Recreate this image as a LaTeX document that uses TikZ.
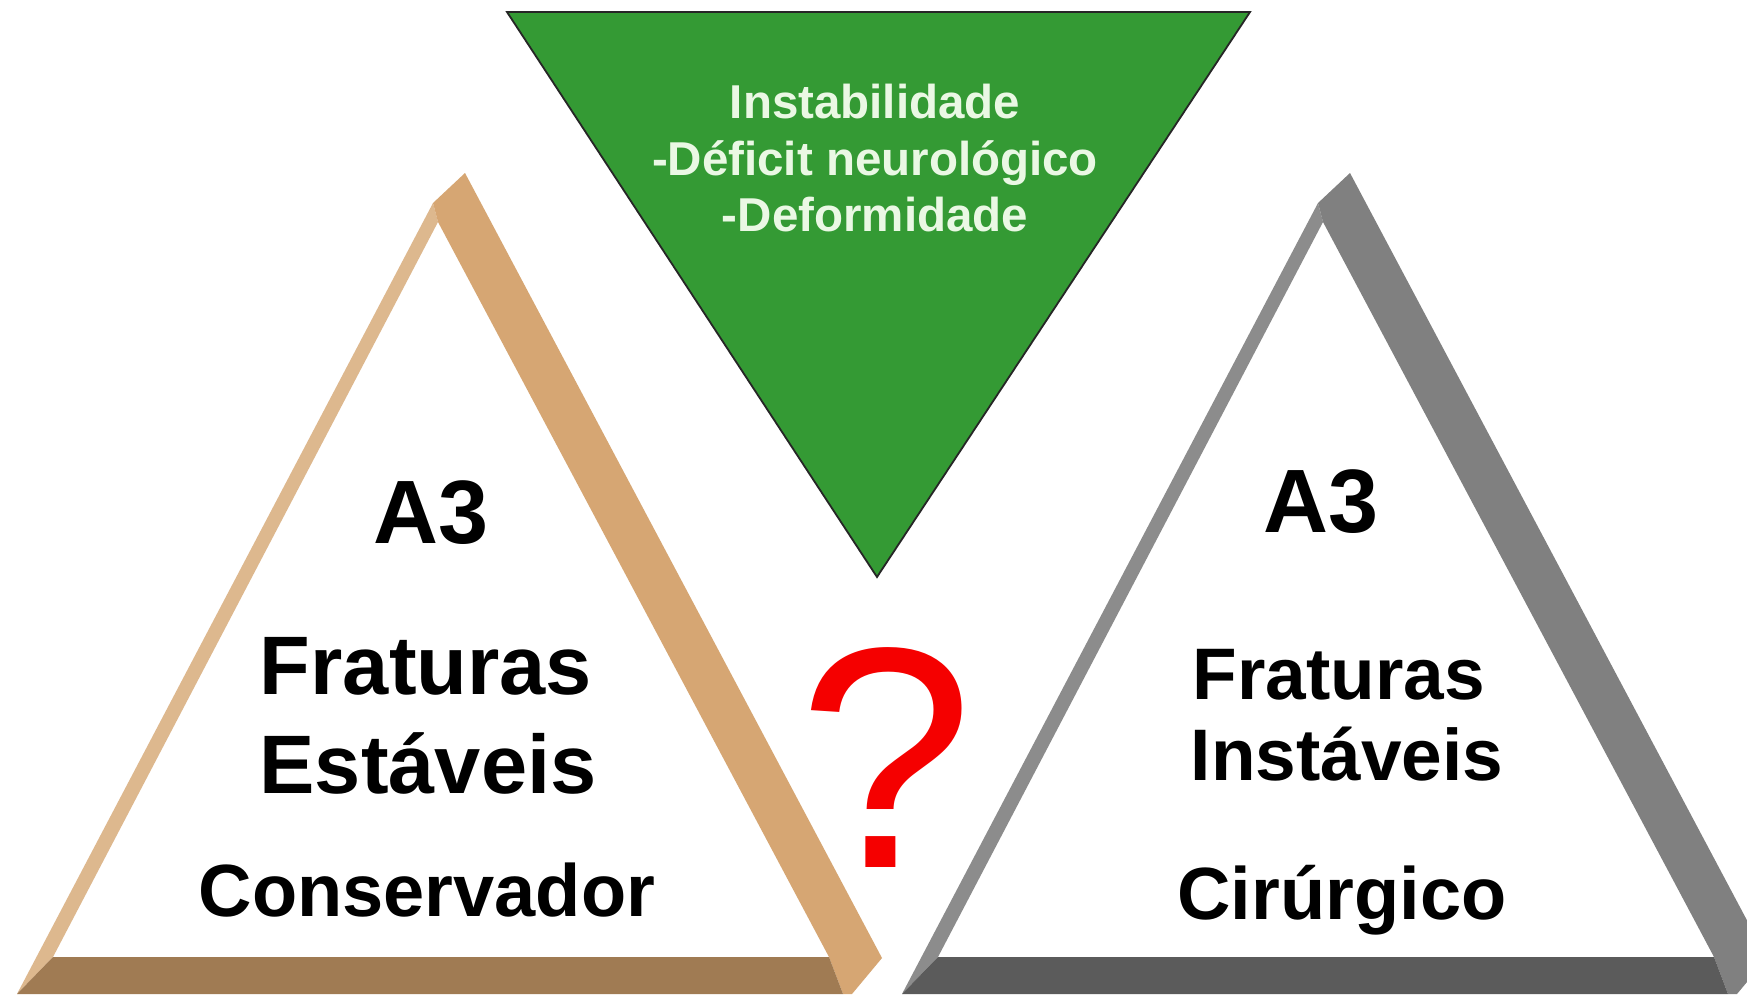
\documentclass[tikz,border=0pt]{standalone}
\usepackage{fontspec}
\setmainfont{Liberation Sans}
\definecolor{tanL}{HTML}{DDB88E}
\definecolor{tanR}{HTML}{D6A673}
\definecolor{tanB}{HTML}{A07B53}
\definecolor{grayL}{HTML}{8C8C8C}
\definecolor{grayR}{HTML}{808080}
\definecolor{grayB}{HTML}{5B5B5B}
\definecolor{grn}{HTML}{349A34}
\definecolor{mint}{HTML}{EAF8E4}
\definecolor{qred}{HTML}{F50000}
\newcommand\bevtri[3]{%
  \fill[#1] (433,203) -- (17,994) -- (53,957) -- (438,222) -- cycle;
  \fill[#2] (465,173) -- (882,958) -- (852,994) -- (843,994) -- (829,957) -- (438,222) -- (433,203) -- cycle;
  \fill[#3] (17,994) -- (53,957) -- (829,957) -- (843,994) -- cycle;
}
\begin{document}
\begin{tikzpicture}[x=1pt,y=-1pt,
  lbl/.style={anchor=base,inner sep=0pt,outer sep=0pt},
  tA/.style={lbl,font=\fontsize{90}{100}\selectfont\bfseries},
  tB/.style={lbl,font=\fontsize{83}{99}\selectfont\bfseries},
  tBr/.style={lbl,font=\fontsize{73}{88}\selectfont\bfseries},
  tC/.style={lbl,font=\fontsize{74}{88}\selectfont\bfseries},
  tG/.style={lbl,text=mint,font=\fontsize{47.5}{56}\selectfont\bfseries},
]
\useasboundingbox (0,0) rectangle (1747,994);
\fill[white] (0,0) rectangle (1747,994);
\clip (0,0) rectangle (1747,994);

% left triangle (tan)
\begin{scope}
  \bevtri{tanL}{tanR}{tanB}
\end{scope}
% right triangle (gray)
\begin{scope}[xshift=885pt]
  \bevtri{grayL}{grayR}{grayB}
\end{scope}

% green inverted triangle
\fill[grn, draw=black!85, line width=1.8pt, line join=miter]
  (507,12) -- (1250,12) -- (877,577) -- cycle;

\node[tG] (g1) at (875,118) {Instabilidade};
\node[tG] (g2) at (875,175) {-Déficit neurológico};
\node[tG] (g3) at (875,231) {-Deformidade};

% left texts
\node[tA] (la3) at (431,543) {A3};
\node[tB] (lf) at (426,694) {Fraturas};
\node[tB] (le) at (428,793) {Estáveis};
\node[tC] (lc) at (427,916) {Conservador};

% right texts
\node[tA] (ra3) at (1321,532) {A3};
\node[tBr] (rf) at (1339,699) {Fraturas};
\node[tBr] (ri) at (1347,780) {Instáveis};
\node[tC] (rc) at (1342,919) {Cirúrgico};

% question mark
\node[lbl,text=qred,font=\fontsize{315}{320}\selectfont] (q) at (886,867) {?};
\end{tikzpicture}
\end{document}
